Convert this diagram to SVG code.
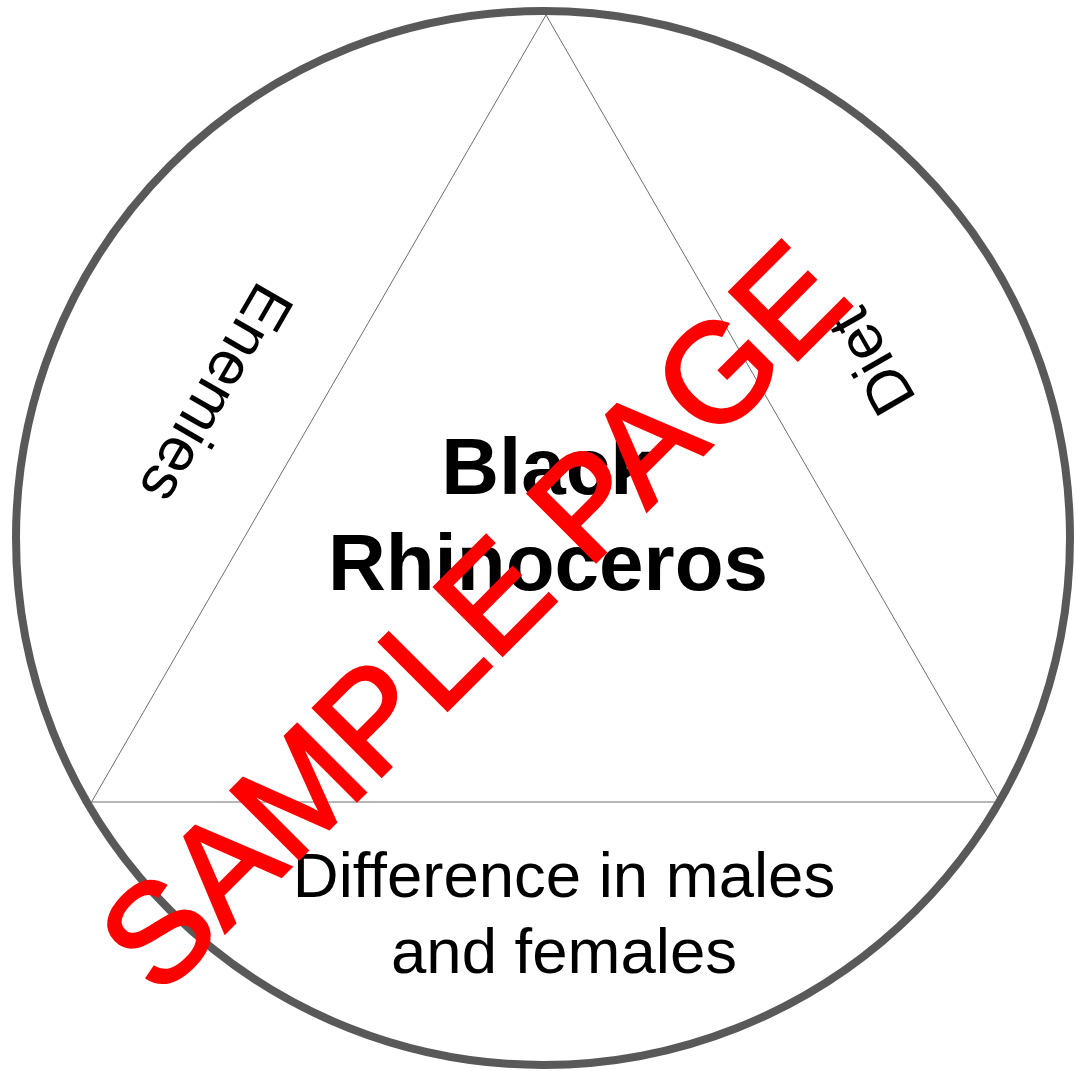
<svg xmlns="http://www.w3.org/2000/svg" width="1076" height="1071" viewBox="0 0 1076 1071">
<style>
.lbl{font-family:"Liberation Sans",Arial,sans-serif;fill:#000;}
.title{font-size:80px;font-weight:bold;text-anchor:middle;}
.side{font-size:62px;text-anchor:middle;dominant-baseline:central;}
.bottom{font-size:63.5px;text-anchor:middle;}
.wm{font-family:"Liberation Sans",Arial,sans-serif;font-size:140px;fill:#ff0000;stroke:#ff0000;stroke-width:3;text-anchor:middle;}
</style>
<rect width="1076" height="1071" fill="#ffffff"/>
<g id="connectors">
<polygon points="546,15 91.5,802 1000,802" fill="none" stroke="#6f6f6f" stroke-width="1"/>
</g>
<g id="circle">
<circle cx="543" cy="538" r="527" fill="none" stroke="#595959" stroke-width="8"/>
</g>
<g id="center">
<text class="lbl title" x="548" y="494">Black</text>
<text class="lbl title" x="548" y="590">Rhinoceros</text>
</g>
<g id="enemies">
<text class="lbl side" transform="translate(217,394) rotate(120)" x="0" y="0">Enemies</text>
</g>
<g id="diet">
<text class="lbl side" transform="translate(871,362) rotate(-120)" x="0" y="0">Diet</text>
</g>
<g id="difference">
<text class="lbl bottom" x="564" y="897">Difference in males</text>
<text class="lbl bottom" x="564" y="973">and females</text>
</g>
<g id="watermark">
<text class="wm" transform="translate(472,615) rotate(-45)" x="0" y="50">SAMPLE PAGE</text>
</g>
</svg>
